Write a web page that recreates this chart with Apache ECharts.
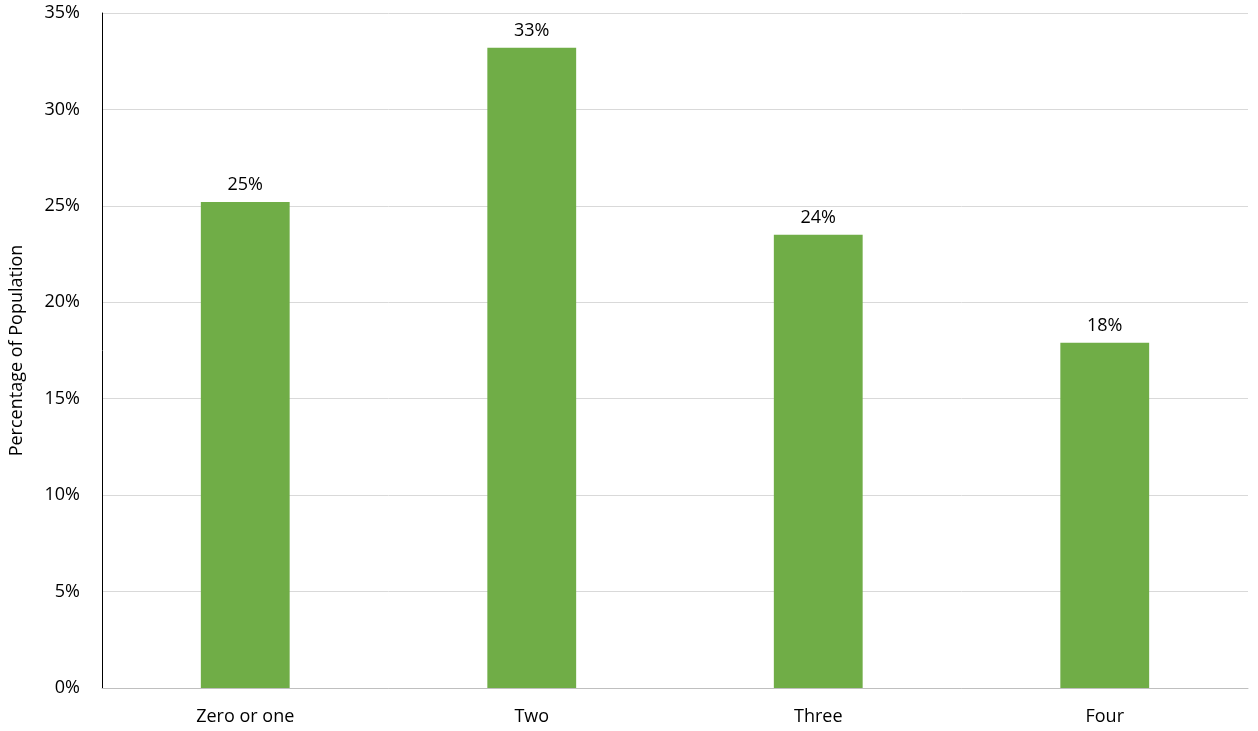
<!DOCTYPE html>
<html>
<head>
<meta charset="utf-8">
<script src="https://cdn.jsdelivr.net/npm/echarts@6/dist/echarts.min.js"></script>
<style>html,body{margin:0;padding:0;background:#fff;}</style>
</head>
<body>
<div id="chart" style="width:1258px;height:731px;"></div>
<script>
const categories = ['Zero or one', 'Two', 'Three', 'Four'];
const shares = [25.2, 33.2, 23.5, 17.9];
const yTicks = [0, 5, 10, 15, 20, 25, 30, 35];

const font = '"Open Sans", "Liberation Sans", sans-serif';
const chart = echarts.init(document.getElementById('chart'));
chart.setOption({
  animation: false,
  grid: { left: 99, right: 10, top: 13, bottom: 43 },
  xAxis: {
    type: 'category',
    data: categories,
    axisLine: { lineStyle: { color: '#bfbfbf' } },
    axisTick: { show: false },
    axisLabel: { color: '#000', fontSize: 18, fontFamily: font, margin: 20 },
  },
  yAxis: {
    type: 'value',
    min: yTicks[0],
    max: yTicks[yTicks.length - 1],
    interval: 5,
    name: 'Percentage of Population',
    nameLocation: 'middle',
    nameGap: 76,
    nameTextStyle: { color: '#000', fontSize: 18, fontFamily: font },
    axisLine: { show: true, lineStyle: { color: '#000' } },
    axisTick: { show: false },
    splitLine: { lineStyle: { color: '#d9d9d9' } },
    axisLabel: {
      color: '#000', fontSize: 18, fontFamily: font, margin: 22,
      formatter: v => `${v}%`,
    },
  },
  series: [{
    type: 'bar',
    data: shares,
    barWidth: '31%',
    itemStyle: { color: '#70ad47' },
    label: {
      show: true,
      position: 'top',
      distance: 8,
      color: '#000',
      fontSize: 18,
      fontFamily: font,
      formatter: p => `${Math.round(p.value)}%`,
    },
  }],
});
</script>
</body>
</html>
